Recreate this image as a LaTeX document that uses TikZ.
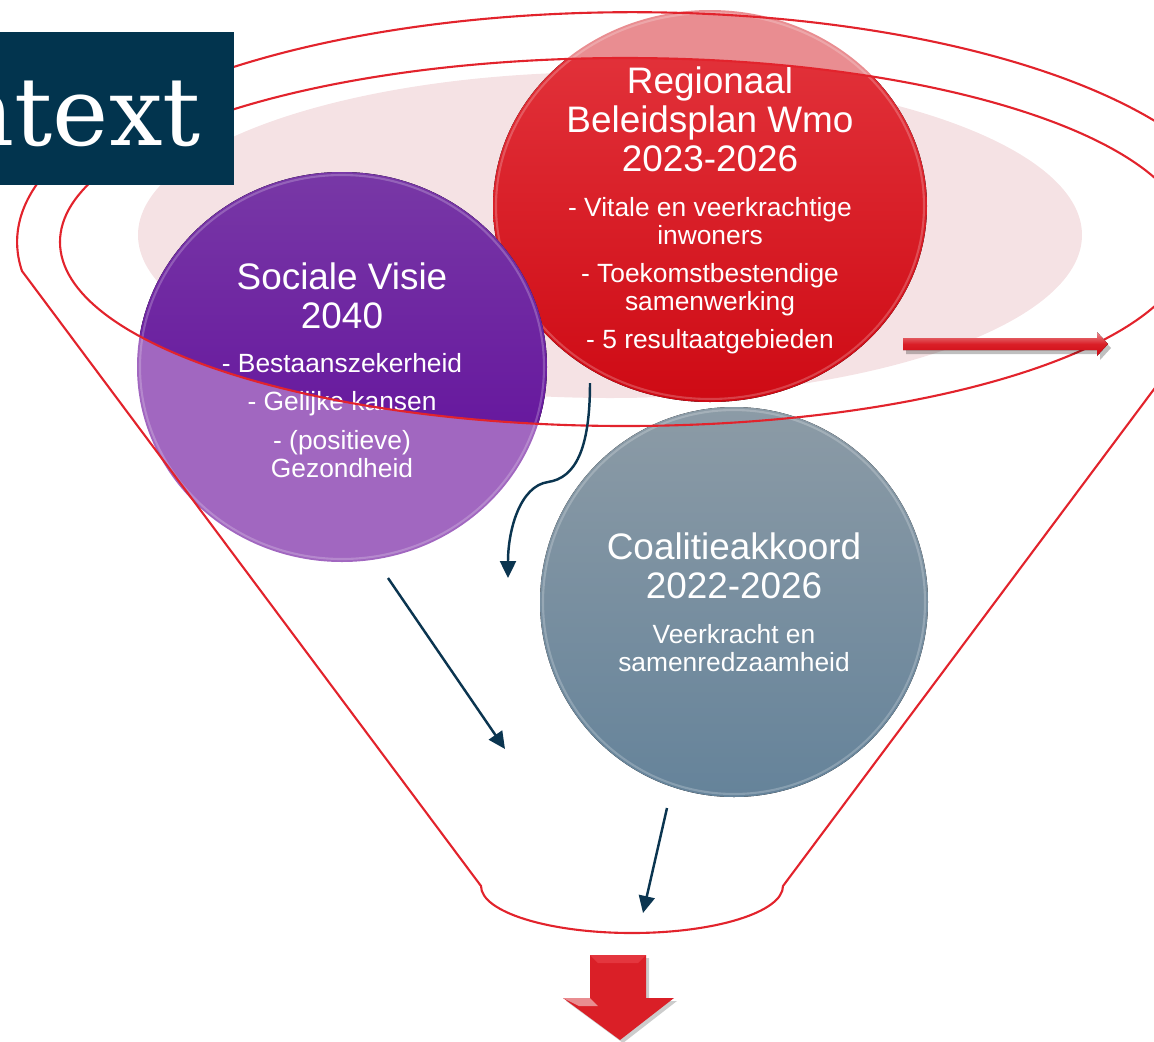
\documentclass[tikz,border=0pt]{standalone}
\usepackage{fontspec}
\setmainfont{Liberation Sans}
\newfontfamily\headserif{DejaVu Serif}
\usetikzlibrary{arrows.meta}
\definecolor{funnelred}{HTML}{E2232C}
\definecolor{veilpink}{HTML}{F5E2E4}
\definecolor{inknavy}{HTML}{0B3550}
\definecolor{boxnavy}{HTML}{02344E}
\definecolor{redpale}{HTML}{E98D91}
\definecolor{redtop}{HTML}{E4363E}
\definecolor{redbottom}{HTML}{CE0A14}
\definecolor{violetpale}{HTML}{A167C0}
\definecolor{violettop}{HTML}{7838A6}
\definecolor{violetbottom}{HTML}{5E089A}
\definecolor{greytop}{HTML}{8C9BA6}
\definecolor{greybottom}{HTML}{65839A}
\definecolor{arrowred}{HTML}{DA1F27}
\tikzset{rim/.style={draw=funnelred, line width=1.2pt},
  flow/.style={draw=inknavy, line width=1.4pt, -{Triangle[length=0.34cm, width=0.32cm]}},
  bigtext/.style={text=white, align=center, inner sep=0pt, anchor=north,
    font=\fontsize{21}{22.2}\selectfont},
  smalltext/.style={text=white, align=center, inner sep=0pt, anchor=north,
    font=\fontsize{15}{15.9}\selectfont},
  gloss/.style={draw=white, draw opacity=.22, line width=1.2pt}}

\begin{document}
\begin{tikzpicture}[x=0.02cm, y=0.02cm]
        \useasboundingbox (0,0) rectangle (1154,-1042);
        \clip (0,0) rectangle (1154,-1042);
        \fill[veilpink] (610,-235) ellipse [x radius=472, y radius=163];
        % Wmo
        \fill[redpale] (710,-206) ellipse [x radius=217, y radius=196];
        \begin{scope}
            \clip (625,-242) ellipse [x radius=565, y radius=184];
            \fill[top color=redtop, bottom color=redbottom] (710,-206) ellipse [x radius=217, y radius=196];
        \end{scope}
        \draw[gloss] (710,-206) ellipse [x radius=214, y radius=193];
        % Sociale Visie
        \fill[violetpale] (342,-367) ellipse [x radius=205, y radius=195];
        \begin{scope}
            \clip (625,-242) ellipse [x radius=565, y radius=184];
            \fill[top color=violettop, bottom color=violetbottom] (342,-367) ellipse [x radius=205, y radius=195];
        \end{scope}
        \draw[gloss] (342,-367) ellipse [x radius=202, y radius=192];
        % Coalitieakkoord
        \fill[top color=greytop, bottom color=greybottom] (734,-602) ellipse [x radius=194, y radius=195];
        \draw[gloss] (734,-602) ellipse [x radius=191, y radius=192];
        %
        \node[bigtext] (wmotitle) at (710,-66) {Regionaal\\Beleidsplan Wmo\\2023-2026};
        \node[smalltext] (wmoitems) at (710,-197) {- Vitale en veerkrachtige\\inwoners\\[5.7pt]- Toekomstbestendige\\samenwerking\\[5.7pt]- 5 resultaatgebieden};
        \node[bigtext] (visietitle) at (342,-262) {Sociale Visie\\2040};
        \node[smalltext] (visieitems) at (342,-353) {- Bestaanszekerheid\\[6pt]- Gelijke kansen\\[6pt]- (positieve)\\Gezondheid};
        \node[bigtext] (akkoordtitle) at (734,-532) {Coalitieakkoord\\2022-2026};
        \node[smalltext] (akkoorditems) at (734,-624) {Veerkracht en\\samenredzaamheid};
        % funnel
        \draw[rim] (22,-271) arc [start angle=187.2, end angle=-7.2, x radius=615, y radius=230]
            -- (783,-886) arc [start angle=0, end angle=-180, x radius=151, y radius=47] -- cycle;
        \draw[rim] (625,-242) ellipse [x radius=565, y radius=184];
        %
        \coordinate (wmoout) at (590,-383);
        \coordinate (wmoin) at (508,-578);
        \coordinate (visieout) at (388,-578);
        \coordinate (visiein) at (505,-749);
        \coordinate (akkoordout) at (667,-808);
        \coordinate (akkoordin) at (643,-913);
        \draw[flow] (wmoout) .. controls (590,-450) and (575,-478) .. (548,-482)
            .. controls (520,-486) and (508,-530) .. (wmoin);
        \draw[flow] (visieout) -- (visiein);
        \draw[flow] (akkoordout) -- (akkoordin);
        % red arrows
        \fill[black, opacity=.25] (906,-342) -- (1100,-342) -- (1100,-336) -- (1111,-348) -- (1100,-360) -- (1100,-354) -- (906,-354) -- cycle;
        \fill[top color=redpale, bottom color=redbottom, middle color=arrowred] (903,-338) -- (1097,-338) -- (1097,-332) -- (1108,-344) -- (1097,-356) -- (1097,-350) -- (903,-350) -- cycle;
        \fill[black, opacity=.2] (593,-958) -- (649,-958) -- (649,-1001) -- (677,-1001) -- (623,-1043) -- (566,-1001) -- (593,-1001) -- cycle;
        \fill[arrowred] (590,-955) -- (646,-955) -- (646,-998) -- (674,-998) -- (620,-1040) -- (563,-998) -- (590,-998) -- cycle;
        \fill[redtop] (590,-955) -- (646,-955) -- (638,-963) -- (598,-963) -- cycle;
        \fill[redpale] (563,-998) -- (590,-998) -- (598,-1006) -- (579,-1006) -- cycle;
        % title box
        \fill[boxnavy] (0,-32) rectangle (234,-185);
        \node[text=white, font=\headserif\fontsize{54}{54}\selectfont, anchor=base east, inner sep=0pt] (context) at (201,-145) {ntext};
\end{tikzpicture}
\end{document}
